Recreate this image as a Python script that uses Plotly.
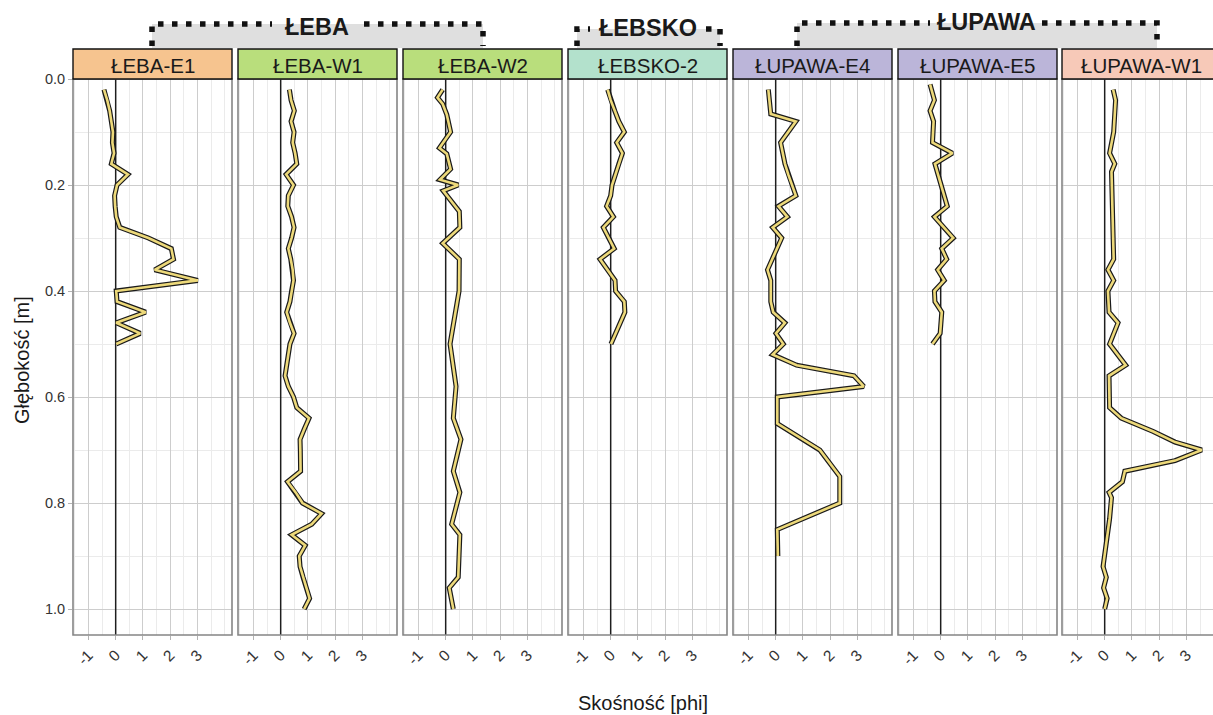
import plotly.graph_objects as go

# ---------------------------------------------------------------- data
sites = ["ŁEBA-E1", "ŁEBA-W1", "ŁEBA-W2", "ŁEBSKO-2", "ŁUPAWA-E4", "ŁUPAWA-E5", "ŁUPAWA-W1"]
site_colors = ["#F6C48F", "#B9DE7C", "#B9DE7C", "#B3E1CC", "#BBB5D9", "#BBB5D9", "#F7C9B8"]
groups = ["ŁEBA", "ŁEBSKO", "ŁUPAWA"]

depth_leba_e1 = [0.02, 0.04, 0.06, 0.08, 0.10, 0.12, 0.14, 0.16, 0.18, 0.20, 0.22, 0.24, 0.26,
                 0.28, 0.30, 0.32, 0.34, 0.36, 0.38, 0.40, 0.42, 0.44, 0.46, 0.48, 0.50]
skew_leba_e1 = [-0.43, -0.31, -0.22, -0.16, -0.10, -0.12, -0.06, -0.16, 0.45, 0.05, -0.04, -0.02, 0.02,
                0.15, 1.20, 2.04, 2.12, 1.43, 3.01, 0.02, 0.05, 1.10, 0.02, 0.90, 0.02]

depth_leba_w1 = [0.02, 0.04, 0.06, 0.08, 0.10, 0.12, 0.14, 0.16, 0.18, 0.20, 0.22, 0.24, 0.26, 0.28,
                 0.30, 0.32, 0.34, 0.36, 0.38, 0.40, 0.42, 0.44, 0.46, 0.48, 0.50, 0.52, 0.54, 0.56,
                 0.58, 0.60, 0.62, 0.64, 0.66, 0.68, 0.70, 0.72, 0.74, 0.76, 0.78, 0.80, 0.82, 0.84,
                 0.86, 0.88, 0.90, 0.92, 0.94, 0.96, 0.98, 1.00]
skew_leba_w1 = [0.32, 0.38, 0.50, 0.38, 0.49, 0.44, 0.53, 0.59, 0.20, 0.47, 0.28, 0.26, 0.40, 0.49,
                0.40, 0.28, 0.37, 0.44, 0.47, 0.40, 0.34, 0.22, 0.34, 0.49, 0.34, 0.28, 0.22, 0.16,
                0.28, 0.47, 0.59, 1.04, 0.87, 0.71, 0.72, 0.73, 0.73, 0.25, 0.55, 0.80, 1.50, 1.14,
                0.40, 0.90, 0.68, 0.71, 0.82, 0.95, 1.06, 0.86]

depth_leba_w2 = [0.02, 0.035, 0.047, 0.067, 0.10, 0.13, 0.141, 0.17, 0.19, 0.20, 0.211, 0.25, 0.28,
                 0.31, 0.34, 0.40, 0.50, 0.58, 0.64, 0.68, 0.74, 0.78, 0.84, 0.86, 0.94, 0.96, 1.00]
skew_leba_w2 = [-0.11, -0.30, -0.11, 0.04, 0.18, -0.23, 0.04, 0.18, -0.21, 0.46, -0.09, 0.50, 0.52,
                -0.11, 0.50, 0.49, 0.16, 0.38, 0.28, 0.56, 0.28, 0.52, 0.22, 0.52, 0.46, 0.13, 0.28]

depth_lebsko_2 = [0.02, 0.04, 0.06, 0.08, 0.10, 0.12, 0.14, 0.16, 0.18, 0.20, 0.22, 0.24, 0.26,
                  0.28, 0.30, 0.32, 0.34, 0.36, 0.38, 0.40, 0.42, 0.44, 0.46, 0.48, 0.50]
skew_lebsko_2 = [-0.11, 0.00, 0.15, 0.30, 0.50, 0.22, 0.43, 0.30, 0.17, 0.05, 0.00, -0.15, 0.10,
                 -0.27, -0.07, 0.13, -0.39, -0.12, 0.16, 0.18, 0.50, 0.52, 0.36, 0.18, 0.01]

depth_lupawa_e4 = [0.02, 0.045, 0.066, 0.08, 0.12, 0.16, 0.18, 0.22, 0.24, 0.26, 0.28, 0.30, 0.36,
                   0.38, 0.42, 0.44, 0.46, 0.48, 0.50, 0.52, 0.54, 0.56, 0.58, 0.60, 0.65, 0.70,
                   0.75, 0.80, 0.85, 0.90]
skew_lupawa_e4 = [-0.27, -0.23, -0.18, 0.74, 0.18, 0.34, 0.46, 0.74, 0.10, 0.43, -0.11, 0.22, -0.30,
                  -0.18, -0.18, -0.09, 0.34, 0.01, 0.28, -0.11, 0.77, 2.87, 3.23, 0.06, 0.06, 1.62,
                  2.35, 2.35, 0.06, 0.08]

depth_lupawa_e5 = [0.01, 0.04, 0.06, 0.08, 0.12, 0.14, 0.16, 0.24, 0.26, 0.30, 0.32, 0.34, 0.36,
                   0.38, 0.40, 0.42, 0.44, 0.48, 0.50]
skew_lupawa_e5 = [-0.39, -0.23, -0.39, -0.26, -0.30, 0.43, -0.21, 0.24, -0.23, 0.46, 0.04, 0.22, -0.11,
                  0.13, -0.23, -0.21, 0.04, -0.02, -0.30]

depth_lupawa_w1 = [0.02, 0.04, 0.10, 0.14, 0.16, 0.175, 0.34, 0.36, 0.38, 0.40, 0.44, 0.46, 0.50,
                   0.54, 0.56, 0.62, 0.64, 0.665, 0.685, 0.70, 0.72, 0.74, 0.76, 0.78, 0.79, 0.83,
                   0.92, 0.94, 0.96, 0.98, 1.00]
skew_lupawa_w1 = [0.31, 0.40, 0.33, 0.18, 0.37, 0.25, 0.33, 0.12, 0.33, 0.12, 0.16, 0.49, 0.18,
                  0.77, 0.16, 0.18, 0.61, 1.78, 2.58, 3.56, 2.58, 0.74, 0.65, 0.16, 0.25, 0.18,
                  -0.06, 0.06, -0.04, 0.09, 0.00]

depths = [depth_leba_e1, depth_leba_w1, depth_leba_w2, depth_lebsko_2,
          depth_lupawa_e4, depth_lupawa_e5, depth_lupawa_w1]
skews = [skew_leba_e1, skew_leba_w1, skew_leba_w2, skew_lebsko_2,
         skew_lupawa_e4, skew_lupawa_e5, skew_lupawa_w1]

x_ticks = [-1, 0, 1, 2, 3]
x_tick_labels = ["-1", "0", "1", "2", "3"]
x_minor = [-1.5, -0.5, 0.5, 1.5, 2.5, 3.5, 4.0]
y_ticks = [0.0, 0.2, 0.4, 0.6, 0.8, 1.0]
y_tick_labels = ["0.0", "0.2", "0.4", "0.6", "0.8", "1.0"]
y_minor = [0.1, 0.3, 0.5, 0.7, 0.9]

# ---------------------------------------------------------------- layout (pixels)
W, H = 1213, 715
PANEL_LEFT = [73, 238, 403, 568, 733, 898, 1062]
PANEL_W = 159
PANEL_TOP, PANEL_BOTTOM = 79, 635
STRIP_TOP = 49
X_RANGE = (-1.565, 4.265)
Y_RANGE = (1.049, 0.0)
FONT = "Liberation Sans, Arial, sans-serif"

# group header boxes: (left, right, top, text centre x, text centre y, gap left, gap right)
HEADER_BOX = [(152, 483, 24, 317, 27, 272, 364),
              (577, 720, 29, 648, 28, 590, 706),
              (797, 1157, 23, 986, 22, 930, 1042)]


def px(x):
    return x / W


def py(y):
    return 1 - y / H


fig = go.Figure()
shapes = []
annotations = []
layout = {}

for i, site in enumerate(sites):
    n = i + 1
    xa = "x" if n == 1 else f"x{n}"
    ya = "y" if n == 1 else f"y{n}"
    left = PANEL_LEFT[i]
    right = left + PANEL_W
    vis_right = min(right, W)
    x_hi = X_RANGE[0] + (X_RANGE[1] - X_RANGE[0]) * (vis_right - left) / PANEL_W

    layout[f"xaxis{n if n > 1 else ''}"] = dict(
        domain=[px(left), px(vis_right)], range=[X_RANGE[0], x_hi], anchor=ya,
        automargin=False,
        tickmode="array", tickvals=x_ticks, ticktext=x_tick_labels, tickangle=-45,
        ticks="outside", ticklen=4, tickwidth=1, tickcolor="#b3b3b3",
        tickfont=dict(family=FONT, size=15.5, color="#333333"),
        showgrid=True, gridcolor="#cdcdcd", gridwidth=1,
        minor=dict(tickmode="array", tickvals=x_minor, showgrid=True,
                   gridcolor="#ebebeb", gridwidth=1, ticks=""),
        zeroline=False, showline=False, fixedrange=True,
    )
    layout[f"yaxis{n if n > 1 else ''}"] = dict(
        domain=[py(PANEL_BOTTOM), py(PANEL_TOP)], range=list(Y_RANGE), anchor=xa,
        automargin=False,
        tickmode="array", tickvals=y_ticks, ticktext=y_tick_labels,
        showticklabels=(n == 1), ticks="outside" if n == 1 else "",
        ticklen=4, tickwidth=1, tickcolor="#b3b3b3",
        tickfont=dict(family=FONT, size=14.5, color="#333333"),
        showgrid=True, gridcolor="#cdcdcd", gridwidth=1,
        minor=dict(tickmode="array", tickvals=y_minor, showgrid=True,
                   gridcolor="#ebebeb", gridwidth=1, ticks=""),
        zeroline=False, showline=False, fixedrange=True,
    )

    # panel border
    shapes.append(dict(type="rect", xref="paper", yref="paper",
                       x0=px(left), x1=px(right), y0=py(PANEL_BOTTOM), y1=py(PANEL_TOP),
                       line=dict(color="#858585", width=1.6), fillcolor="rgba(0,0,0,0)",
                       layer="above"))
    # facet strip
    shapes.append(dict(type="rect", xref="paper", yref="paper",
                       x0=px(left), x1=px(right), y0=py(PANEL_TOP), y1=py(STRIP_TOP),
                       line=dict(color="#111111", width=1.4), fillcolor=site_colors[i],
                       layer="above"))
    annotations.append(dict(text=site, xref="paper", yref="paper",
                            x=px((left + right) / 2), y=py((PANEL_TOP + STRIP_TOP) / 2 + 1),
                            xanchor="center", yanchor="middle", showarrow=False,
                            font=dict(family=FONT, size=20.5, color="#1a1a1a")))

    # vertical reference line at zero skewness
    fig.add_trace(go.Scatter(x=[0, 0], y=[Y_RANGE[1], Y_RANGE[0]], xaxis=xa, yaxis=ya,
                             mode="lines", line=dict(color="#1e1e1e", width=1.5),
                             hoverinfo="skip", showlegend=False))
    # skewness profile: dark outline with a yellow core
    fig.add_trace(go.Scatter(x=skews[i], y=depths[i], xaxis=xa, yaxis=ya, mode="lines",
                             line=dict(color="#1a1a1a", width=5), hoverinfo="skip",
                             showlegend=False))
    fig.add_trace(go.Scatter(x=skews[i], y=depths[i], xaxis=xa, yaxis=ya, mode="lines",
                             line=dict(color="#EDD97A", width=2.6), hoverinfo="skip",
                             showlegend=False))

# river / lake group headers
for name, (x0, x1, top, tx, ty, g0, g1) in zip(groups, HEADER_BOX):
    shapes.append(dict(type="rect", xref="paper", yref="paper",
                       x0=px(x0), x1=px(x1), y0=py(STRIP_TOP - 1), y1=py(top),
                       fillcolor="#DFDFDF", line=dict(width=0), layer="below"))
    for path in (f"M{px(x0)},{py(STRIP_TOP - 3)} L{px(x0)},{py(top)} L{px(g0)},{py(top)}",
                 f"M{px(g1)},{py(top)} L{px(x1)},{py(top)} L{px(x1)},{py(STRIP_TOP - 3)}"):
        shapes.append(dict(type="path", xref="paper", yref="paper", path=path,
                           line=dict(color="#111111", width=5.5, dash="5.5px,8.5px"),
                           layer="above"))
    annotations.append(dict(text=f"<b>{name}</b>", xref="paper", yref="paper",
                            x=px(tx), y=py(ty), xanchor="center", yanchor="middle",
                            showarrow=False,
                            font=dict(family=FONT, size=23.5, color="#1a1a1a")))

# axis titles
annotations.append(dict(text="Skośność [phi]", xref="paper", yref="paper",
                        x=px(643), y=py(703), xanchor="center", yanchor="middle",
                        showarrow=False, font=dict(family=FONT, size=20, color="#1a1a1a")))
annotations.append(dict(text="Głębokość [m]", xref="paper", yref="paper",
                        x=px(22), y=py(360), xanchor="center", yanchor="middle",
                        textangle=-90, showarrow=False,
                        font=dict(family=FONT, size=20, color="#1a1a1a")))

fig.update_layout(
    template="none",
    width=W, height=H, margin=dict(l=0, r=0, t=0, b=0, autoexpand=False),
    paper_bgcolor="white", plot_bgcolor="white",
    shapes=shapes, annotations=annotations, showlegend=False,
    font=dict(family=FONT), **layout,
)

fig.write_html("out.html", config={"displayModeBar": False})
